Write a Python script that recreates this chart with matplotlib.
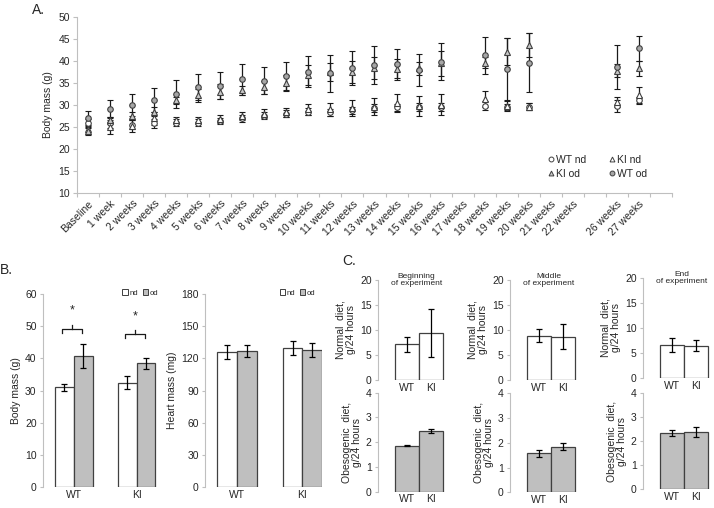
import numpy as np
import matplotlib.pyplot as plt
from matplotlib.patches import Patch
from matplotlib.lines import Line2D

plt.rcParams['font.family'] = ['Liberation Sans', 'DejaVu Sans']
plt.rcParams['font.size'] = 7.5
plt.rcParams['text.color'] = '#262626'
plt.rcParams['xtick.color'] = '#bfbfbf'
plt.rcParams['ytick.color'] = '#bfbfbf'
plt.rcParams['xtick.labelcolor'] = '#262626'
plt.rcParams['ytick.labelcolor'] = '#262626'
plt.rcParams['axes.labelcolor'] = '#262626'

nan = np.nan
# panel A: time course
weeks = ['Baseline', '1 week'] + ['%d weeks' % i for i in range(2, 23)] + ['', '26 weeks', '27 weeks', '']
wt_nd = [25.9, 26.0, 25.5, 25.8, 26.0, 26.0, 26.4, 27.0, 27.5, 28.0, 28.5, 28.3, 28.8, 29.3, 29.5, 29.5, 29.5, nan,
         29.8, 29.5, 29.6, nan, nan, nan, 29.8, 31.0, nan]
wt_nd_err = [1.0, 1.2, 1.0, 1.0, 0.8, 0.7, 0.7, 0.8, 0.8, 0.8, 0.8, 0.8, 0.8, 0.8, 0.8, 0.9, 0.9, nan,
             1.0, 0.8, 0.8, nan, nan, nan, 1.3, 0.9, nan]
ki_nd = [24.5, 25.0, 25.3, 27.0, 26.5, 26.5, 26.8, 27.5, 28.0, 28.3, 29.0, 29.0, 29.2, 29.6, 30.4, 29.8, 30.0, nan,
         31.4, 29.8, 29.6, nan, nan, nan, 30.7, 32.3, nan]
ki_nd_err = [1.0, 1.5, 1.5, 1.5, 0.8, 0.8, 0.8, 1.0, 1.0, 1.0, 1.2, 1.5, 1.8, 1.9, 2.0, 2.3, 2.4, nan,
             1.8, 1.0, 0.8, nan, nan, nan, 1.2, 1.8, nan]
ki_od = [24.0, 26.5, 27.5, 28.5, 31.0, 32.2, 33.0, 33.3, 34.0, 35.0, 36.8, 37.5, 37.5, 38.3, 38.1, 38.3, 39.4, nan,
         39.6, 42.1, 43.6, nan, nan, nan, 37.8, 38.3, nan]
ki_od_err = [0.8, 0.8, 1.0, 1.0, 0.7, 1.5, 1.7, 1.0, 1.5, 1.7, 2.3, 2.0, 2.5, 2.5, 2.4, 1.5, 2.9, nan,
             1.3, 3.0, 2.8, nan, nan, nan, 1.5, 1.7, nan]
wt_od = [27.0, 29.0, 30.0, 31.1, 32.5, 34.0, 34.4, 35.8, 35.5, 36.5, 37.5, 37.2, 38.4, 39.1, 39.3, 37.9, 39.8, nan,
         41.3, 38.2, 39.6, nan, nan, nan, 38.7, 42.8, nan]
wt_od_err = [1.7, 2.0, 2.5, 2.8, 3.1, 3.0, 3.1, 3.5, 3.0, 3.3, 3.5, 4.2, 3.9, 4.3, 3.3, 3.6, 4.2, nan,
             4.2, 7.0, 6.7, nan, nan, nan, 5.0, 2.8, nan]

# panel B
groups = ['WT', 'KI']
body_nd = [31.0, 32.5]
body_nd_err = [1.0, 2.0]
body_od = [40.8, 38.5]
body_od_err = [3.7, 1.7]
heart_nd = [126, 130]
heart_nd_err = [6.5, 6.5]
heart_od = [127, 127.5]
heart_od_err = [5.5, 6.5]

# panel C: food intake
stages = ['Beginning\nof experiment', 'Middle\nof experiment', 'End\nof experiment']
normal_intake = [[7.2, 9.5], [8.9, 8.7], [6.7, 6.5]]
normal_err = [[1.5, 4.8], [1.3, 2.5], [1.4, 1.1]]
obes_intake = [[1.85, 2.45], [1.57, 1.85], [2.35, 2.38]]
obes_err = [[0.02, 0.07], [0.13, 0.15], [0.12, 0.2]]

spine_c = '#bfbfbf'
edge_c = '#404040'
gray_c = '#bfbfbf'
ekw = dict(elinewidth=0.9, capsize=2.5, capthick=0.9)


def style(ax):
    for s in ['top', 'right', 'bottom']:
        ax.spines[s].set_visible(False)
    ax.spines['left'].set_color(spine_c)
    ax.tick_params(axis='y', length=2.5, width=0.8, pad=2)
    ax.tick_params(axis='x', length=0, pad=2)


fig = plt.figure(figsize=(7.14, 5.08), dpi=100)

# ---- A ----
ax = fig.add_axes([0.108, 0.620, 0.833, 0.347])
x = np.arange(len(weeks))
series = [(wt_nd, wt_nd_err, 'o', 'white', 'WT nd'),
          (ki_nd, ki_nd_err, '^', 'white', 'KI nd'),
          (ki_od, ki_od_err, '^', '#c8c8c8', 'KI od'),
          (wt_od, wt_od_err, 'o', '#a6a6a6', 'WT od')]
h = {}
for vals, err, m, fc, lab in series:
    ax.errorbar(x, vals, yerr=err, fmt=m, ms=4, mfc=fc, mec=edge_c, mew=0.8,
                ecolor='#1a1a1a', elinewidth=0.9, capsize=2.2, capthick=0.9)
    h[lab] = Line2D([], [], marker=m, ls='none', ms=3.5, mfc=fc, mec=edge_c, mew=0.7)
ax.set_xlim(-0.5, len(weeks) - 0.5)
ax.set_ylim(10, 50)
ax.set_yticks(range(10, 51, 5))
ax.set_xticks(x)
ax.set_xticklabels(weeks, rotation=45, ha='right', rotation_mode='anchor')
ax.set_xticks(np.arange(-0.5, len(weeks)), minor=True)
ax.tick_params(axis='x', which='major', length=0, pad=4)
ax.tick_params(axis='x', which='minor', length=3, width=0.8, color=spine_c)
ax.tick_params(axis='y', length=3, width=0.8, pad=2)
for s in ['top', 'right']:
    ax.spines[s].set_visible(False)
ax.spines['left'].set_color(spine_c)
ax.spines['bottom'].set_color(spine_c)
ax.set_ylabel('Body mass (g)', labelpad=4)
ax.legend([h['WT nd'], h['KI od'], h['KI nd'], h['WT od']], ['WT nd', 'KI od', 'KI nd', 'WT od'],
          ncol=2, frameon=False, loc='upper left', bbox_to_anchor=(0.775, 0.27),
          handlelength=0.6, handletextpad=0.2, columnspacing=2.2, labelspacing=0.4, fontsize=7.5)
fig.text(0.045, 0.995, 'A.', fontsize=10, va='top')

# ---- B ----
w = 0.3
bx = np.arange(len(groups))
axb = fig.add_axes([0.060, 0.041, 0.171, 0.380])
axb.bar(bx - w / 2, body_nd, w, yerr=body_nd_err, color='white', edgecolor=edge_c, linewidth=0.9, error_kw=ekw)
axb.bar(bx + w / 2, body_od, w, yerr=body_od_err, color=gray_c, edgecolor=edge_c, linewidth=0.9, error_kw=ekw)
axb.set_xlim(-0.49, 1.45)
axb.set_ylim(0, 60)
axb.set_xticks(bx)
axb.set_xticklabels(groups)
style(axb)
axb.set_ylabel('Body mass (g)', labelpad=3)
for gx, yb, ys in [(-0.02, 49.1, 55.0), (0.98, 47.5, 53.0)]:
    axb.plot([gx - 0.16, gx - 0.16, gx + 0.16, gx + 0.16], [yb - 1.2, yb, yb, yb - 1.2], color='#1a1a1a', lw=0.9)
    axb.plot([gx, gx], [yb, yb + 1.2], color='#1a1a1a', lw=0.9)
    axb.text(gx, ys, '*', ha='center', va='center', fontsize=9)
fig.text(0.0, 0.455, 'B.', fontsize=10, va='bottom')

axh = fig.add_axes([0.287, 0.041, 0.164, 0.380])
axh.bar(bx - w / 2, heart_nd, w, yerr=heart_nd_err, color='white', edgecolor=edge_c, linewidth=0.9, error_kw=ekw)
axh.bar(bx + w / 2, heart_od, w, yerr=heart_od_err, color=gray_c, edgecolor=edge_c, linewidth=0.9, error_kw=ekw)
axh.set_xlim(-0.49, 1.30)
axh.set_ylim(0, 180)
axh.set_yticks(range(0, 181, 30))
axh.set_xticks(bx)
axh.set_xticklabels(groups)
style(axh)
axh.set_ylabel('Heart mass (mg)', labelpad=3)

for a in [axb, axh]:
    a.legend([Patch(facecolor='white', edgecolor=edge_c, lw=0.7), Patch(facecolor=gray_c, edgecolor=edge_c, lw=0.7)],
             ['nd', 'od'], ncol=2, frameon=False, loc='upper right', bbox_to_anchor=(1.0, 1.06),
             fontsize=5.5, handlelength=0.7, handleheight=0.7, handletextpad=0.2, columnspacing=0.6)

# ---- C ----
fig.text(0.480, 0.473, 'C.', fontsize=10, va='bottom')
col_left = [378, 510, 643]
top_rows = [(380, 280), (380, 280), (378, 278)]
bot_rows = [(491.7, 392.7), (492.3, 393.3), (489.3, 393.3)]
for i in range(3):
    l = col_left[i] / 714
    wd = 70 / 714
    b0, t0 = top_rows[i]
    axt = fig.add_axes([l, 1 - b0 / 508, wd, (b0 - t0) / 508])
    axt.bar([0, 1], normal_intake[i], 1.0, yerr=normal_err[i], color='white', edgecolor=edge_c, linewidth=0.9,
            error_kw=ekw)
    axt.set_xlim(-1.2, 1.7)
    axt.set_ylim(0, 20)
    axt.set_yticks(range(0, 21, 5))
    axt.set_xticks([0, 1])
    axt.set_xticklabels(groups)
    style(axt)
    axt.set_ylabel('Normal  diet,\ng/24 hours', labelpad=3, linespacing=1.0)
    axt.text(0.55, 1.0, stages[i], transform=axt.transAxes, ha='center', va='center', fontsize=6, linespacing=1.1)

    b1, t1 = bot_rows[i]
    axo = fig.add_axes([l, 1 - b1 / 508, wd, (b1 - t1) / 508])
    axo.bar([0, 1], obes_intake[i], 1.0, yerr=obes_err[i], color=gray_c, edgecolor=edge_c, linewidth=0.9,
            error_kw=ekw)
    axo.set_xlim(-1.2, 1.7)
    axo.set_ylim(0, 4)
    axo.set_yticks(range(0, 5))
    axo.set_xticks([0, 1])
    axo.set_xticklabels(groups)
    style(axo)
    axo.set_ylabel('Obesogenic  diet,\ng/24 hours', labelpad=3, linespacing=1.0)

fig.savefig('out.png', dpi=100)
